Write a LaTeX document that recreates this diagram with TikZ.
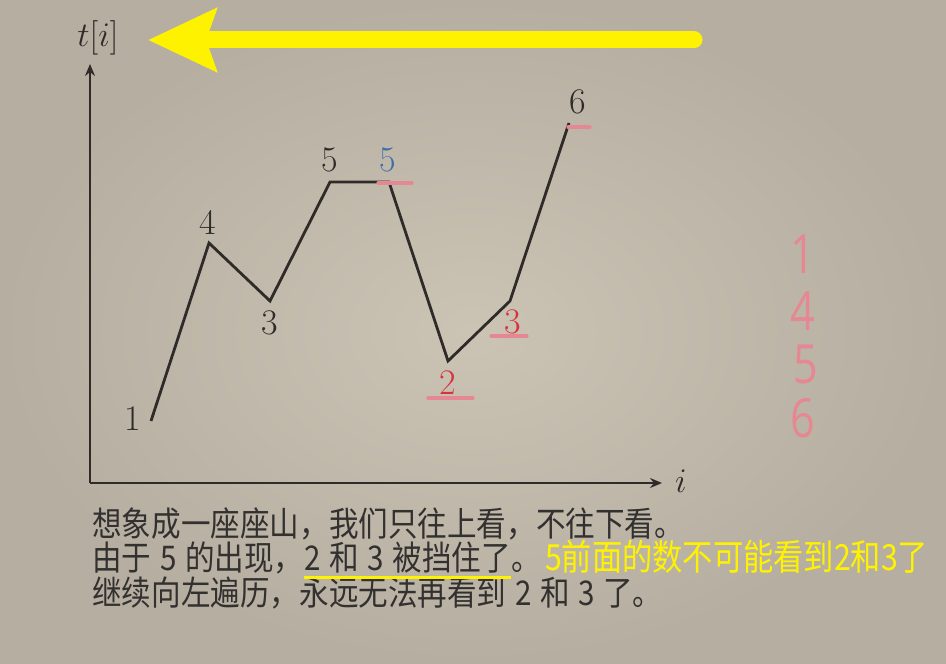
\documentclass[tikz,border=0pt]{standalone}
\usepackage{fontspec}
\newfontfamily\cjk[FakeStretch=0.87, WordSpace=1.3]{Noto Sans CJK SC}
\newfontfamily\cjknarrow[FakeStretch=0.84]{Noto Sans CJK SC}
\newfontfamily\handfont[FakeStretch=0.8]{Open Sans}
\usetikzlibrary{arrows.meta}

\definecolor{bgin}{HTML}{CBC4B5}
\definecolor{bgout}{HTML}{B6AFA1}
\definecolor{axisc}{HTML}{2E2B28}
\definecolor{textc}{HTML}{333130}
\definecolor{pinkc}{HTML}{E68893}
\definecolor{redc}{HTML}{D8333C}
\definecolor{bluec}{HTML}{3E6DAA}
\definecolor{yelc}{HTML}{FFF200}

\begin{document}
\begin{tikzpicture}[
  x=0.5pt, y=-0.5pt,
  ax/.style={-{Stealth[length=6pt, width=5pt]}, line width=0.8pt, draw=axisc},
  curve/.style={line width=1.4pt, draw=axisc},
  num/.style={font=\fontsize{18}{21}\selectfont, text=axisc, inner sep=0pt},
  pinktick/.style={line width=1.6pt, draw=pinkc, line cap=round},
  hand/.style={font=\handfont\fontsize{27}{30}\selectfont, text=pinkc, inner sep=0pt},
  txt/.style={font=\cjk\fontsize{17}{20}\selectfont, text=textc, inner sep=0pt,
              anchor=west, text height=0.78em, text depth=0.06em},
  ytxt/.style={txt, font=\cjknarrow\fontsize{18}{21}\selectfont, text=yelc},
  uline/.style={line width=1.5pt, draw=yelc},
  yarr/.style={-{Stealth[length=34pt, width=31pt, inset=5pt]}, line width=8.5pt,
               draw=yelc, line cap=round}
]

% ================= background =================
\useasboundingbox (0,0) rectangle (946,663);
\shade[inner color=bgin, outer color=bgout] (0,0) rectangle (946,663);

% ================= axes =================
\coordinate (o) at (90,483);
\coordinate (ytop) at (90,64);
\coordinate (xend) at (662,483);
\draw[ax] (o) -- (ytop);
\draw[ax] (o) -- (xend);
\node[num] (tlab) at (98,38) {$t[i]$};
\node[num] (ilab) at (681,481) {$i$};

% the big yellow arrow (scan from right to left)
\coordinate (ya) at (694,40);
\coordinate (yb) at (148,40);
\draw[yarr] (ya) -- (yb);

% ================= mountains =================
\coordinate (p1) at (151,421);
\coordinate (p4) at (209,243);
\coordinate (p3) at (270,301);
\coordinate (p5) at (330,182);
\coordinate (q5) at (389,182);
\coordinate (p2) at (448,361);
\coordinate (q3) at (510,301);
\coordinate (p6) at (569,123);
\draw[curve] (p1) -- (p4) -- (p3) -- (p5) -- (q5) -- (p2) -- (q3) -- (p6);

\node[num] (n1) at (133,419) {1};
\node[num] (n4) at (208,222) {4};
\node[num] (n3) at (270,323) {3};
\node[num] (n5) at (330,160) {5};
\node[num, text=bluec] (m5) at (388,160) {5};
\node[num, text=redc] (m2) at (448,383) {2};
\node[num, text=redc] (m3) at (513,322) {3};
\node[num] (n6) at (578,102) {6};

% pink ticks under what is still visible
\draw[pinktick] (378,183) -- (412,183);
\draw[pinktick] (491,336) -- (527,336);
\draw[pinktick] (428,398) -- (473,398);
\draw[pinktick] (568,127) -- (590,127);

% the stack, written by hand
\node[hand] (s1) at (803,254) {1};
\node[hand] (s4) at (803,311) {4};
\node[hand] (s5) at (806,364) {5};
\node[hand] (s6) at (803,418) {6};

% ================= text =================
\node[txt] (l1) at (92,529) {想象成一座座山，我们只往上看，不往下看。};
\node[txt] (l2a) at (92,563) {由于 5 的出现，};
\node[txt] (l2b) at (l2a.east) {2 和 3 被挡住了};
\node[txt] (l2c) at (l2b.east) {。};
\node[ytxt] (l2d) at ([xshift=1.5pt]l2c.east) {5前面的数不可能看到2和3了};
\node[txt] (l3) at (92,598) {继续向左遍历，永远无法再看到 2 和 3 了。};
\draw[uline] ([yshift=-3pt]l2b.south west) -- ([yshift=-3pt]l2b.south east);

\end{tikzpicture}
\end{document}
